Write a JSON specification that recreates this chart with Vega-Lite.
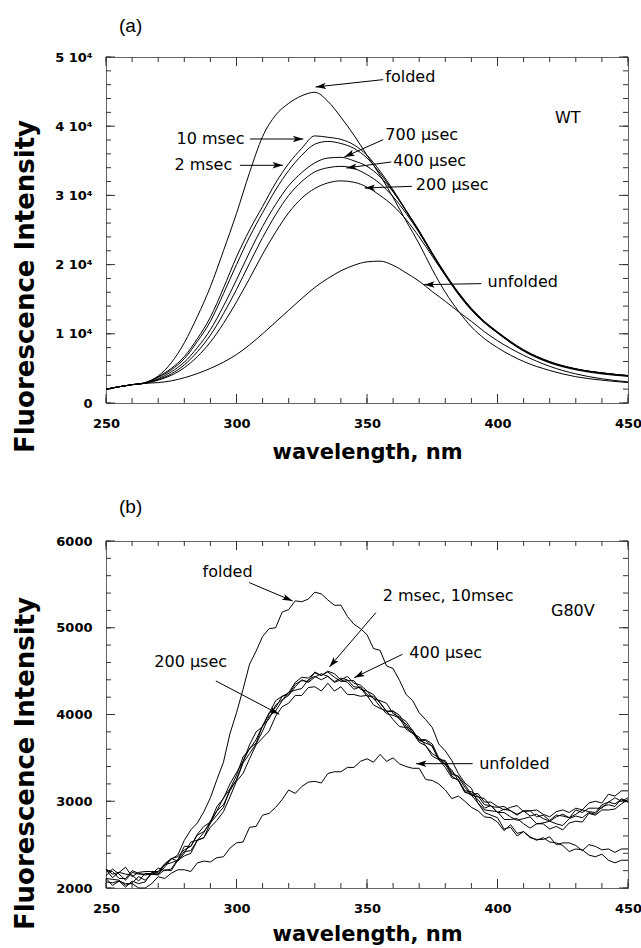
{
  "$schema": "https://vega.github.io/schema/vega-lite/v6.json",
  "background": "white",
  "padding": {"left": 11, "top": 16, "right": 4, "bottom": 0},
  "spacing": 34,
  "config": {
    "view": {"stroke": "#666", "strokeWidth": 1},
    "axis": {"grid": false, "domain": false, "ticks": false, "labelOverlap": false, "labelFlush": false, "labelFont": "DejaVu Sans", "labelFontWeight": "bold", "labelFontSize": 13, "labelColor": "#000", "titleFont": "DejaVu Sans", "titleFontWeight": "bold", "titleColor": "#000"},
    "title": {"font": "Liberation Sans", "fontSize": 19, "fontWeight": "normal", "anchor": "start", "frame": "group", "dx": 13, "baseline": "alphabetic", "color": "#000"},
    "text": {"font": "DejaVu Sans", "fontSize": 16, "color": "#000"}
  },
  "datasets": {
    "xticks": [{"v":250},{"v":260},{"v":270},{"v":280},{"v":290},{"v":300},{"v":310},{"v":320},{"v":330},{"v":340},{"v":350},{"v":360},{"v":370},{"v":380},{"v":390},{"v":400},{"v":410},{"v":420},{"v":430},{"v":440},{"v":450}],
    "yticksa": [{"v":0},{"v":2000},{"v":4000},{"v":6000},{"v":8000},{"v":10000},{"v":12000},{"v":14000},{"v":16000},{"v":18000},{"v":20000},{"v":22000},{"v":24000},{"v":26000},{"v":28000},{"v":30000},{"v":32000},{"v":34000},{"v":36000},{"v":38000},{"v":40000},{"v":42000},{"v":44000},{"v":46000},{"v":48000},{"v":50000}],
    "yticksb": [{"v":2000},{"v":2200},{"v":2400},{"v":2600},{"v":2800},{"v":3000},{"v":3200},{"v":3400},{"v":3600},{"v":3800},{"v":4000},{"v":4200},{"v":4400},{"v":4600},{"v":4800},{"v":5000},{"v":5200},{"v":5400},{"v":5600},{"v":5800},{"v":6000}],
    "acurves": [
      {"x":250,"F":2000,"U":2000,"A":2000,"B":2000,"C":2000,"D":2000,"E":2000},
      {"x":255,"F":2350,"U":2350,"A":2350,"B":2350,"C":2350,"D":2350,"E":2350},
      {"x":260,"F":2650,"U":2650,"A":2650,"B":2650,"C":2650,"D":2650,"E":2650},
      {"x":265,"F":2950,"U":2850,"A":2950,"B":2900,"C":2850,"D":2850,"E":2850},
      {"x":270,"F":3900,"U":2950,"A":3800,"B":3700,"C":3500,"D":3400,"E":3300},
      {"x":275,"F":5800,"U":3200,"A":5000,"B":4800,"C":4500,"D":4200,"E":4000},
      {"x":280,"F":8700,"U":3650,"A":6700,"B":6400,"C":5900,"D":5500,"E":5100},
      {"x":285,"F":12500,"U":4250,"A":9300,"B":8900,"C":8000,"D":7400,"E":6700},
      {"x":290,"F":16800,"U":5000,"A":12400,"B":11800,"C":10600,"D":9800,"E":8800},
      {"x":295,"F":22000,"U":5900,"A":16600,"B":15800,"C":14000,"D":12900,"E":11500},
      {"x":300,"F":27400,"U":7000,"A":21100,"B":20000,"C":17800,"D":16400,"E":14600},
      {"x":305,"F":33300,"U":8400,"A":25000,"B":24000,"C":21800,"D":20200,"E":18000},
      {"x":310,"F":38500,"U":10000,"A":28400,"B":27500,"C":25500,"D":23900,"E":21500},
      {"x":315,"F":41600,"U":11700,"A":31800,"B":30800,"C":28700,"D":27200,"E":24700},
      {"x":320,"F":43300,"U":13400,"A":34600,"B":33600,"C":31400,"D":30000,"E":27500},
      {"x":325,"F":44400,"U":15100,"A":36800,"B":35800,"C":33300,"D":32000,"E":29600},
      {"x":330,"F":44900,"U":16700,"A":38600,"B":37400,"C":34700,"D":33400,"E":31000},
      {"x":335,"F":43600,"U":18000,"A":38400,"B":37800,"C":35400,"D":34000,"E":31800},
      {"x":340,"F":41300,"U":19100,"A":38100,"B":37500,"C":35500,"D":34200,"E":32100},
      {"x":345,"F":38700,"U":19900,"A":37300,"B":36800,"C":35000,"D":33900,"E":31900},
      {"x":350,"F":35800,"U":20400,"A":35800,"B":35400,"C":34200,"D":33000,"E":31200},
      {"x":355,"F":32900,"U":20500,"A":33500,"B":33200,"C":32700,"D":31700,"E":30000},
      {"x":360,"F":29700,"U":19900,"A":30800,"B":30600,"C":30500,"D":29800,"E":28500},
      {"x":365,"F":26300,"U":18800,"A":27800,"B":27700,"C":27800,"D":27400,"E":26500},
      {"x":370,"F":23000,"U":17600,"A":24800,"B":24700,"C":24900,"D":24600,"E":24000},
      {"x":375,"F":19300,"U":16100,"A":21600,"B":21500,"C":21700,"D":21500,"E":21200},
      {"x":380,"F":16000,"U":14700,"A":18600,"B":18500,"C":18700,"D":18600,"E":18400},
      {"x":385,"F":13300,"U":13200,"A":15900,"B":15800,"C":16000,"D":15900,"E":15700},
      {"x":390,"F":11000,"U":11800,"A":13600,"B":13500,"C":13700,"D":13600,"E":13400},
      {"x":395,"F":9300,"U":10300,"A":11700,"B":11600,"C":11800,"D":11700,"E":11600},
      {"x":400,"F":8000,"U":9000,"A":10200,"B":10150,"C":10300,"D":10200,"E":10100},
      {"x":410,"F":6000,"U":6900,"A":7600,"B":7600,"C":7700,"D":7600,"E":7500},
      {"x":420,"F":4700,"U":5300,"A":5900,"B":5900,"C":6000,"D":5900,"E":5800},
      {"x":430,"F":3800,"U":4200,"A":4900,"B":4900,"C":4950,"D":4900,"E":4800},
      {"x":440,"F":3300,"U":3500,"A":4350,"B":4350,"C":4350,"D":4300,"E":4200},
      {"x":450,"F":2950,"U":3050,"A":3950,"B":3950,"C":3950,"D":3900,"E":3850}
    ],
    "bcurves": [
      {"x":250,"F":2110,"U":2070,"A":2220,"B":2200,"C":2140,"D":2110,"E":2210},
      {"x":252.5,"F":2030,"U":2060,"A":2160,"B":2190,"C":2220,"D":2100,"E":2120},
      {"x":255,"F":2080,"U":2080,"A":2180,"B":2110,"C":2160,"D":2090,"E":2180},
      {"x":257.5,"F":2010,"U":2050,"A":2240,"B":2110,"C":2090,"D":2030,"E":2160},
      {"x":260,"F":2080,"U":2050,"A":2130,"B":2200,"C":2180,"D":2060,"E":2150},
      {"x":262.5,"F":2050,"U":2000,"A":2180,"B":2170,"C":2160,"D":2130,"E":2080},
      {"x":265,"F":2070,"U":2000,"A":2190,"B":2150,"C":2160,"D":2090,"E":2170},
      {"x":267.5,"F":2180,"U":2050,"A":2190,"B":2160,"C":2170,"D":2160,"E":2160},
      {"x":270,"F":2180,"U":2130,"A":2190,"B":2160,"C":2160,"D":2230,"E":2150},
      {"x":272.5,"F":2270,"U":2110,"A":2280,"B":2270,"C":2240,"D":2200,"E":2210},
      {"x":275,"F":2330,"U":2170,"A":2340,"B":2290,"C":2340,"D":2220,"E":2200},
      {"x":277.5,"F":2380,"U":2210,"A":2360,"B":2320,"C":2310,"D":2330,"E":2320},
      {"x":280,"F":2550,"U":2210,"A":2440,"B":2480,"C":2400,"D":2420,"E":2370},
      {"x":282.5,"F":2670,"U":2190,"A":2480,"B":2480,"C":2530,"D":2430,"E":2400},
      {"x":285,"F":2750,"U":2290,"A":2620,"B":2610,"C":2550,"D":2550,"E":2550},
      {"x":287.5,"F":2880,"U":2310,"A":2710,"B":2650,"C":2640,"D":2580,"E":2580},
      {"x":290,"F":3040,"U":2300,"A":2760,"B":2750,"C":2770,"D":2750,"E":2700},
      {"x":292.5,"F":3250,"U":2350,"A":2940,"B":2890,"C":2890,"D":2840,"E":2780},
      {"x":295,"F":3450,"U":2360,"A":3030,"B":3040,"C":2960,"D":2930,"E":2880},
      {"x":297.5,"F":3780,"U":2460,"A":3200,"B":3140,"C":3120,"D":3140,"E":3050},
      {"x":300,"F":4020,"U":2520,"A":3330,"B":3300,"C":3250,"D":3240,"E":3230},
      {"x":302.5,"F":4290,"U":2530,"A":3460,"B":3510,"C":3460,"D":3440,"E":3320},
      {"x":305,"F":4580,"U":2700,"A":3650,"B":3600,"C":3610,"D":3550,"E":3490},
      {"x":307.5,"F":4730,"U":2710,"A":3800,"B":3710,"C":3670,"D":3660,"E":3650},
      {"x":310,"F":4900,"U":2840,"A":3860,"B":3870,"C":3870,"D":3810,"E":3730},
      {"x":312.5,"F":4990,"U":2860,"A":4010,"B":4020,"C":3950,"D":3980,"E":3810},
      {"x":315,"F":5000,"U":2930,"A":4160,"B":4080,"C":4110,"D":4040,"E":3980},
      {"x":317.5,"F":5180,"U":3020,"A":4210,"B":4210,"C":4170,"D":4160,"E":4090},
      {"x":320,"F":5210,"U":3130,"A":4250,"B":4230,"C":4220,"D":4260,"E":4130},
      {"x":322.5,"F":5310,"U":3090,"A":4370,"B":4350,"C":4320,"D":4280,"E":4220},
      {"x":325,"F":5300,"U":3170,"A":4430,"B":4390,"C":4400,"D":4300,"E":4220},
      {"x":327.5,"F":5330,"U":3220,"A":4420,"B":4380,"C":4370,"D":4400,"E":4310},
      {"x":330,"F":5410,"U":3230,"A":4480,"B":4490,"C":4430,"D":4440,"E":4320},
      {"x":332.5,"F":5390,"U":3210,"A":4450,"B":4450,"C":4470,"D":4400,"E":4270},
      {"x":335,"F":5320,"U":3320,"A":4500,"B":4490,"C":4440,"D":4440,"E":4360},
      {"x":337.5,"F":5260,"U":3340,"A":4470,"B":4430,"C":4380,"D":4370,"E":4270},
      {"x":340,"F":5260,"U":3340,"A":4400,"B":4380,"C":4420,"D":4400,"E":4320},
      {"x":342.5,"F":5130,"U":3390,"A":4440,"B":4390,"C":4400,"D":4370,"E":4230},
      {"x":345,"F":5040,"U":3390,"A":4360,"B":4390,"C":4320,"D":4290,"E":4230},
      {"x":347.5,"F":4990,"U":3460,"A":4340,"B":4290,"C":4310,"D":4320,"E":4210},
      {"x":350,"F":4920,"U":3490,"A":4270,"B":4270,"C":4210,"D":4230,"E":4220},
      {"x":352.5,"F":4760,"U":3450,"A":4180,"B":4230,"C":4210,"D":4190,"E":4110},
      {"x":355,"F":4740,"U":3540,"A":4160,"B":4130,"C":4140,"D":4090,"E":4070},
      {"x":357.5,"F":4560,"U":3460,"A":4130,"B":4040,"C":4030,"D":4010,"E":4040},
      {"x":360,"F":4530,"U":3500,"A":4010,"B":4040,"C":4040,"D":3990,"E":3940},
      {"x":362.5,"F":4390,"U":3430,"A":3970,"B":3990,"C":3940,"D":3960,"E":3860},
      {"x":365,"F":4230,"U":3400,"A":3920,"B":3860,"C":3890,"D":3830,"E":3850},
      {"x":367.5,"F":4160,"U":3380,"A":3810,"B":3820,"C":3790,"D":3780,"E":3790},
      {"x":370,"F":4020,"U":3380,"A":3710,"B":3700,"C":3700,"D":3740,"E":3680},
      {"x":372.5,"F":3940,"U":3250,"A":3710,"B":3700,"C":3670,"D":3640,"E":3640},
      {"x":375,"F":3850,"U":3240,"A":3660,"B":3630,"C":3640,"D":3550,"E":3520},
      {"x":377.5,"F":3660,"U":3200,"A":3500,"B":3480,"C":3480,"D":3500,"E":3480},
      {"x":380,"F":3580,"U":3130,"A":3450,"B":3470,"C":3420,"D":3430,"E":3390},
      {"x":382.5,"F":3470,"U":3030,"A":3310,"B":3330,"C":3360,"D":3290,"E":3270},
      {"x":385,"F":3320,"U":3060,"A":3290,"B":3280,"C":3240,"D":3240,"E":3250},
      {"x":387.5,"F":3210,"U":3000,"A":3190,"B":3160,"C":3120,"D":3100,"E":3110},
      {"x":390,"F":3150,"U":2930,"A":3080,"B":3070,"C":3110,"D":3090,"E":3070},
      {"x":392.5,"F":2980,"U":2890,"A":3090,"B":3050,"C":3060,"D":3020,"E":2980},
      {"x":395,"F":2870,"U":2820,"A":2990,"B":3030,"C":2960,"D":2920,"E":2900},
      {"x":397.5,"F":2840,"U":2810,"A":2990,"B":2940,"C":2950,"D":2950,"E":2890},
      {"x":400,"F":2810,"U":2760,"A":2940,"B":2930,"C":2870,"D":2870,"E":2880},
      {"x":402.5,"F":2680,"U":2660,"A":2900,"B":2940,"C":2910,"D":2870,"E":2790},
      {"x":405,"F":2700,"U":2730,"A":2930,"B":2890,"C":2890,"D":2820,"E":2790},
      {"x":407.5,"F":2600,"U":2630,"A":2950,"B":2850,"C":2840,"D":2780,"E":2800},
      {"x":410,"F":2650,"U":2650,"A":2880,"B":2890,"C":2890,"D":2800,"E":2740},
      {"x":412.5,"F":2590,"U":2580,"A":2890,"B":2890,"C":2830,"D":2820,"E":2690},
      {"x":415,"F":2550,"U":2560,"A":2900,"B":2820,"C":2850,"D":2740,"E":2740},
      {"x":417.5,"F":2580,"U":2560,"A":2850,"B":2840,"C":2800,"D":2750,"E":2740},
      {"x":420,"F":2530,"U":2590,"A":2820,"B":2780,"C":2770,"D":2770,"E":2680},
      {"x":422.5,"F":2520,"U":2500,"A":2880,"B":2840,"C":2820,"D":2740,"E":2710},
      {"x":425,"F":2490,"U":2520,"A":2900,"B":2830,"C":2850,"D":2720,"E":2670},
      {"x":427.5,"F":2420,"U":2520,"A":2870,"B":2810,"C":2810,"D":2800,"E":2750},
      {"x":430,"F":2450,"U":2490,"A":2920,"B":2900,"C":2850,"D":2830,"E":2770},
      {"x":432.5,"F":2440,"U":2430,"A":2900,"B":2870,"C":2900,"D":2810,"E":2760},
      {"x":435,"F":2380,"U":2500,"A":2980,"B":2920,"C":2880,"D":2870,"E":2860},
      {"x":437.5,"F":2360,"U":2480,"A":3000,"B":2920,"C":2870,"D":2850,"E":2840},
      {"x":440,"F":2390,"U":2440,"A":2980,"B":2920,"C":2960,"D":2940,"E":2900},
      {"x":442.5,"F":2320,"U":2450,"A":3080,"B":2990,"C":2990,"D":2960,"E":2900},
      {"x":445,"F":2290,"U":2410,"A":3060,"B":3040,"C":2970,"D":2940,"E":2910},
      {"x":447.5,"F":2320,"U":2450,"A":3120,"B":3000,"C":3020,"D":3030,"E":2970},
      {"x":450,"F":2320,"U":2450,"A":3120,"B":3040,"C":2990,"D":2990,"E":3020}
    ],
    "anotes": [
      {"label":"folded","tx":357,"ty":47060,"x1":356.2,"y1":46730,"x2":330.3,"y2":45670},
      {"label":"WT","tx":422,"ty":41190,"x1":null,"y1":null,"x2":null,"y2":null},
      {"label":"10 msec","tx":277,"ty":38150,"x1":305.2,"y1":38150,"x2":325.6,"y2":38150},
      {"label":"2 msec","tx":276.2,"ty":34350,"x1":301.3,"y1":34350,"x2":317.8,"y2":34350},
      {"label":"700 µsec","tx":357,"ty":38780,"x1":356.2,"y1":38050,"x2":341.3,"y2":35550},
      {"label":"400 µsec","tx":360.1,"ty":35020,"x1":359.3,"y1":34830,"x2":342.1,"y2":33960},
      {"label":"200 µsec","tx":368.7,"ty":31550,"x1":367.2,"y1":31310,"x2":349.1,"y2":31070},
      {"label":"unfolded","tx":396.2,"ty":17440,"x1":393.8,"y1":17250,"x2":371.9,"y2":17100}
    ],
    "bnotes": [
      {"label":"folded","tx":287,"ty":5647,"x1":304.9,"y1":5520,"x2":321.5,"y2":5309},
      {"label":"G80V","tx":420.5,"ty":5193,"x1":null,"y1":null,"x2":null,"y2":null},
      {"label":"2 msec, 10msec","tx":356,"ty":5366,"x1":353.4,"y1":5174,"x2":335.6,"y2":4548},
      {"label":"400 µsec","tx":366.2,"ty":4713,"x1":363.6,"y1":4694,"x2":345.1,"y2":4425},
      {"label":"200 µsec","tx":268.5,"ty":4609,"x1":292.1,"y1":4387,"x2":316.4,"y2":4002},
      {"label":"unfolded","tx":393,"ty":3433,"x1":390.5,"y1":3433,"x2":368.8,"y2":3433}
    ]
  },
  "vconcat": [
    {
      "width": 522,
      "height": 346,
      "title": {"text": "(a)", "offset": 15},
      "layer": [
        {
          "data": {"name": "xticks"},
          "mark": {"type": "rule", "color": "#333", "strokeWidth": 1, "strokeDash": [5, 336]},
          "encoding": {"x": {"field": "v", "type": "quantitative", "scale": {"domain": [250,450], "nice": false, "zero": false}}}
        },
        {
          "data": {"name": "xticks"},
          "transform": [{"filter": "datum.v % 50 === 0"}],
          "mark": {"type": "rule", "color": "#333", "strokeWidth": 1, "strokeDash": [9, 328]},
          "encoding": {"x": {"field": "v", "type": "quantitative", "scale": {"domain": [250,450], "nice": false, "zero": false}}}
        },
        {
          "data": {"name": "yticksa"},
          "mark": {"type": "rule", "color": "#333", "strokeWidth": 1, "strokeDash": [5, 512]},
          "encoding": {"y": {"field": "v", "type": "quantitative", "scale": {"domain": [0,50000], "nice": false}}}
        },
        {
          "data": {"name": "yticksa"},
          "transform": [{"filter": "datum.v % 10000 === 0"}],
          "mark": {"type": "rule", "color": "#333", "strokeWidth": 1, "strokeDash": [9, 504]},
          "encoding": {"y": {"field": "v", "type": "quantitative", "scale": {"domain": [0,50000], "nice": false}}}
        },
        {
          "data": {"name": "acurves"},
          "transform": [{"fold": ["F","U","A","B","C","D","E"], "as": ["series","value"]}],
          "mark": {"type": "line", "color": "#000", "strokeWidth": 1, "interpolate": "monotone"},
          "encoding": {
            "x": {"field": "x", "type": "quantitative", "scale": {"domain": [250,450], "nice": false, "zero": false},
                  "axis": {"orient": "bottom", "values": [250,300,350,400,450], "labelPadding": 14, "title": "wavelength, nm", "titleFontSize": 21, "titlePadding": 11}},
            "y": {"field": "value", "type": "quantitative", "scale": {"domain": [0,50000], "nice": false},
                  "axis": {"orient": "left", "values": [0,10000,20000,30000,40000,50000], "labelPadding": 14,
                           "labelExpr": "datum.value === 0 ? '0' : format(datum.value/10000, 'd') + ' 10⁴'",
                           "title": "Fluorescence Intensity", "titleFontSize": 26, "titleX": -81, "titleY": 229, "titleBaseline": "middle", "titleAngle": -90}},
            "detail": {"field": "series"}
          }
        },
        {
          "data": {"name": "anotes"},
          "transform": [{"filter": "isValid(datum.x1)"}],
          "mark": {"type": "rule", "color": "#000", "strokeWidth": 1},
          "encoding": {
            "x": {"field": "x1", "type": "quantitative", "scale": {"domain": [250,450], "nice": false, "zero": false}},
            "y": {"field": "y1", "type": "quantitative", "scale": {"domain": [0,50000], "nice": false}},
            "x2": {"field": "x2"},
            "y2": {"field": "y2"}
          }
        },
        {
          "data": {"name": "anotes"},
          "transform": [
            {"filter": "isValid(datum.x1)"},
            {"calculate": "atan2((datum.x2 - datum.x1) * 2.61, (datum.y2 - datum.y1) * 0.00692) * 180 / PI", "as": "ang"}
          ],
          "mark": {"type": "point", "shape": "M0,0L0.8,2.6L0,2L-0.8,2.6Z", "filled": true, "color": "#000", "size": 64, "opacity": 1, "strokeWidth": 0},
          "encoding": {
            "x": {"field": "x2", "type": "quantitative", "scale": {"domain": [250,450], "nice": false, "zero": false}},
            "y": {"field": "y2", "type": "quantitative", "scale": {"domain": [0,50000], "nice": false}},
            "angle": {"field": "ang", "type": "quantitative", "scale": null}
          }
        },
        {
          "data": {"name": "anotes"},
          "mark": {"type": "text", "align": "left", "baseline": "middle"},
          "encoding": {
            "x": {"field": "tx", "type": "quantitative", "scale": {"domain": [250,450], "nice": false, "zero": false}},
            "y": {"field": "ty", "type": "quantitative", "scale": {"domain": [0,50000], "nice": false}},
            "text": {"field": "label"}
          }
        }
      ]
    },
    {
      "width": 522,
      "height": 347,
      "title": {"text": "(b)", "offset": 18},
      "layer": [
        {
          "data": {"name": "xticks"},
          "mark": {"type": "rule", "color": "#333", "strokeWidth": 1, "strokeDash": [5, 337]},
          "encoding": {"x": {"field": "v", "type": "quantitative", "scale": {"domain": [250,450], "nice": false, "zero": false}}}
        },
        {
          "data": {"name": "xticks"},
          "transform": [{"filter": "datum.v % 50 === 0"}],
          "mark": {"type": "rule", "color": "#333", "strokeWidth": 1, "strokeDash": [9, 329]},
          "encoding": {"x": {"field": "v", "type": "quantitative", "scale": {"domain": [250,450], "nice": false, "zero": false}}}
        },
        {
          "data": {"name": "yticksb"},
          "mark": {"type": "rule", "color": "#333", "strokeWidth": 1, "strokeDash": [5, 512]},
          "encoding": {"y": {"field": "v", "type": "quantitative", "scale": {"domain": [2000,6000], "nice": false, "zero": false}}}
        },
        {
          "data": {"name": "yticksb"},
          "transform": [{"filter": "datum.v % 1000 === 0"}],
          "mark": {"type": "rule", "color": "#333", "strokeWidth": 1, "strokeDash": [9, 504]},
          "encoding": {"y": {"field": "v", "type": "quantitative", "scale": {"domain": [2000,6000], "nice": false, "zero": false}}}
        },
        {
          "data": {"name": "bcurves"},
          "transform": [{"fold": ["F","U","A","B","C","D","E"], "as": ["series","value"]}],
          "mark": {"type": "line", "color": "#000", "strokeWidth": 1},
          "encoding": {
            "x": {"field": "x", "type": "quantitative", "scale": {"domain": [250,450], "nice": false, "zero": false},
                  "axis": {"orient": "bottom", "values": [250,300,350,400,450], "labelPadding": 14, "title": "wavelength, nm", "titleFontSize": 21, "titlePadding": 8}},
            "y": {"field": "value", "type": "quantitative", "scale": {"domain": [2000,6000], "nice": false, "zero": false},
                  "axis": {"orient": "left", "values": [2000,3000,4000,5000,6000], "labelPadding": 14, "format": "d",
                           "title": "Fluorescence Intensity", "titleFontSize": 26, "titleX": -81, "titleY": 222, "titleBaseline": "middle", "titleAngle": -90}},
            "detail": {"field": "series"}
          }
        },
        {
          "data": {"name": "bnotes"},
          "transform": [{"filter": "isValid(datum.x1)"}],
          "mark": {"type": "rule", "color": "#000", "strokeWidth": 1},
          "encoding": {
            "x": {"field": "x1", "type": "quantitative", "scale": {"domain": [250,450], "nice": false, "zero": false}},
            "y": {"field": "y1", "type": "quantitative", "scale": {"domain": [2000,6000], "nice": false, "zero": false}},
            "x2": {"field": "x2"},
            "y2": {"field": "y2"}
          }
        },
        {
          "data": {"name": "bnotes"},
          "transform": [
            {"filter": "isValid(datum.x1)"},
            {"calculate": "atan2((datum.x2 - datum.x1) * 2.61, (datum.y2 - datum.y1) * 0.08675) * 180 / PI", "as": "ang"}
          ],
          "mark": {"type": "point", "shape": "M0,0L0.8,2.6L0,2L-0.8,2.6Z", "filled": true, "color": "#000", "size": 64, "opacity": 1, "strokeWidth": 0},
          "encoding": {
            "x": {"field": "x2", "type": "quantitative", "scale": {"domain": [250,450], "nice": false, "zero": false}},
            "y": {"field": "y2", "type": "quantitative", "scale": {"domain": [2000,6000], "nice": false, "zero": false}},
            "angle": {"field": "ang", "type": "quantitative", "scale": null}
          }
        },
        {
          "data": {"name": "bnotes"},
          "mark": {"type": "text", "align": "left", "baseline": "middle"},
          "encoding": {
            "x": {"field": "tx", "type": "quantitative", "scale": {"domain": [250,450], "nice": false, "zero": false}},
            "y": {"field": "ty", "type": "quantitative", "scale": {"domain": [2000,6000], "nice": false, "zero": false}},
            "text": {"field": "label"}
          }
        }
      ]
    }
  ]
}
